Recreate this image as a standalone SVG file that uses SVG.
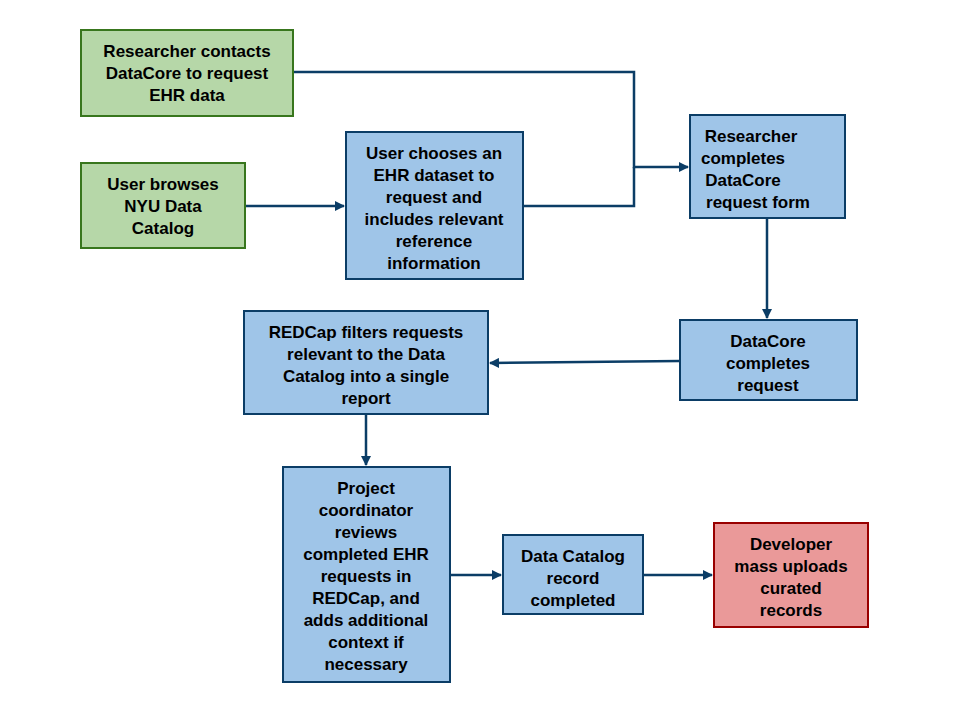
<svg xmlns="http://www.w3.org/2000/svg" width="960" height="720" viewBox="0 0 960 720">
<style>
.g{fill:#b6d7a8;stroke:#38761d;stroke-width:2}
.b{fill:#9fc5e8;stroke:#0b3d66;stroke-width:2}
.r{fill:#ea9999;stroke:#990000;stroke-width:2}
text{font-family:"Liberation Sans",Arial,sans-serif;font-weight:bold;font-size:17px;fill:#000;text-anchor:middle}
.c{fill:none;stroke:#0b3d66;stroke-width:2.5}
</style>
<defs><marker id="a" markerWidth="10" markerHeight="10" refX="9" refY="5" orient="auto" markerUnits="userSpaceOnUse" viewBox="0 0 10 10"><path d="M0,0L10,5L0,10z" fill="#0b3d66"/></marker></defs>
<rect width="960" height="720" fill="#fff"/>
<g id="connectors">
<path class="c" d="M293,72H634V167H688" marker-end="url(#a)"/>
<path class="c" d="M245,206H344" marker-end="url(#a)"/>
<path class="c" d="M523,206H634V167"/>
<path class="c" d="M767,218V318" marker-end="url(#a)"/>
<path class="c" d="M680,361L490,363" marker-end="url(#a)"/>
<path class="c" d="M366,414V465" marker-end="url(#a)"/>
<path class="c" d="M450,575H501" marker-end="url(#a)"/>
<path class="c" d="M643,575H712" marker-end="url(#a)"/>
</g>
<g id="n1"><rect class="g" x="81" y="30" width="212" height="86"/><text x="187" y="57">Researcher contacts</text><text x="187" y="79">DataCore to request</text><text x="187" y="101">EHR data</text></g>
<g id="n2"><rect class="g" x="81" y="163" width="164" height="85"/><text x="163" y="190">User browses</text><text x="163" y="212">NYU Data</text><text x="163" y="234">Catalog</text></g>
<g id="n3"><rect class="b" x="346" y="132" width="177" height="147"/><text x="434" y="159">User chooses an</text><text x="434" y="181">EHR dataset to</text><text x="434" y="203">request and</text><text x="434" y="225">includes relevant</text><text x="434" y="247">reference</text><text x="434" y="269">information</text></g>
<g id="n4"><rect class="b" x="690" y="115" width="155" height="103"/><text x="751" y="142">Researcher</text><text x="743" y="164">completes</text><text x="743" y="186">DataCore</text><text x="758" y="208">request form</text></g>
<g id="n5"><rect class="b" x="680" y="320" width="177" height="80"/><text x="768" y="347">DataCore</text><text x="768" y="369">completes</text><text x="768" y="391">request</text></g>
<g id="n6"><rect class="b" x="244" y="311" width="244" height="103"/><text x="366" y="338">REDCap filters requests</text><text x="366" y="360">relevant to the Data</text><text x="366" y="382">Catalog into a single</text><text x="366" y="404">report</text></g>
<g id="n7"><rect class="b" x="283" y="467" width="167" height="215"/><text x="366" y="494">Project</text><text x="366" y="516">coordinator</text><text x="366" y="538">reviews</text><text x="366" y="560">completed EHR</text><text x="366" y="582">requests in</text><text x="366" y="604">REDCap, and</text><text x="366" y="626">adds additional</text><text x="366" y="648">context if</text><text x="366" y="670">necessary</text></g>
<g id="n8"><rect class="b" x="503" y="535" width="140" height="79"/><text x="573" y="562">Data Catalog</text><text x="573" y="584">record</text><text x="573" y="606">completed</text></g>
<g id="n9"><rect class="r" x="714" y="523" width="154" height="104"/><text x="791" y="550">Developer</text><text x="791" y="572">mass uploads</text><text x="791" y="594">curated</text><text x="791" y="616">records</text></g>
</svg>
